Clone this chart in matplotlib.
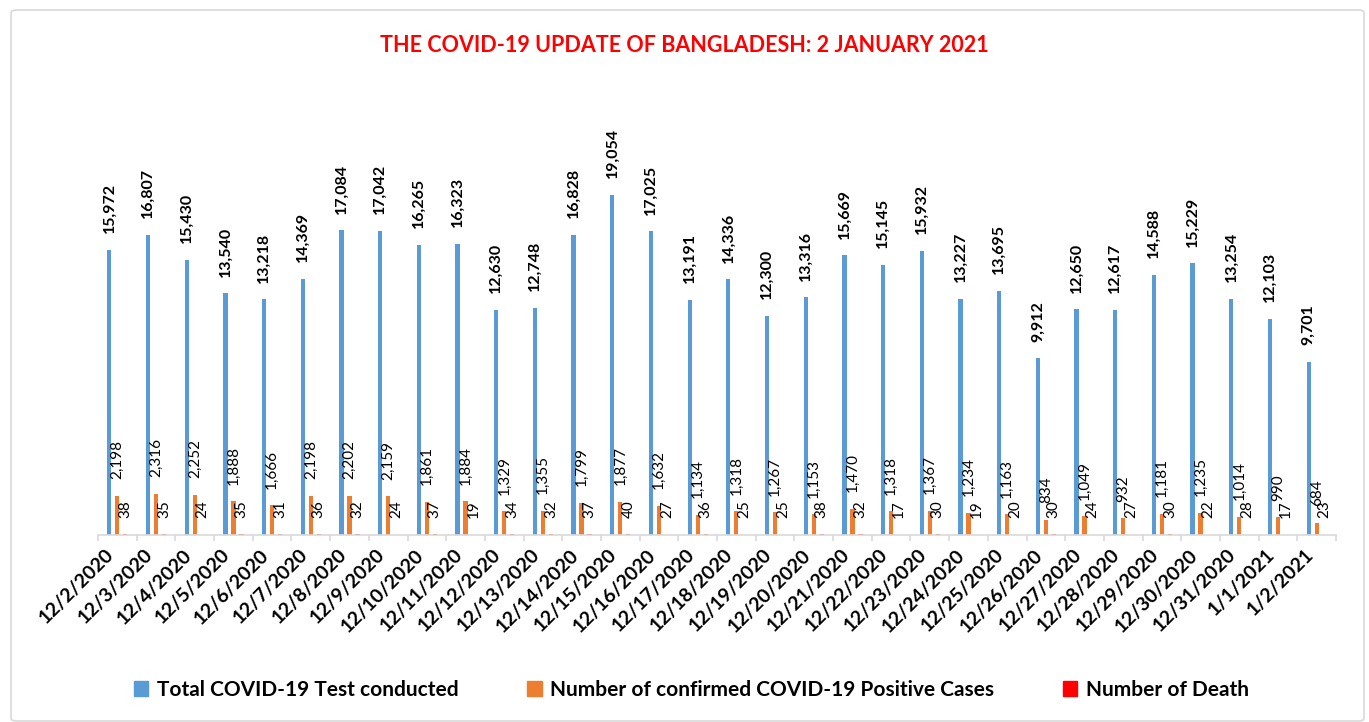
import numpy as np
import matplotlib.pyplot as plt
from matplotlib.patches import Patch, FancyBboxPatch

plt.rcParams['font.family'] = ['Lato', 'DejaVu Sans']

dates = ["12/2/2020", "12/3/2020", "12/4/2020", "12/5/2020", "12/6/2020", "12/7/2020",
         "12/8/2020", "12/9/2020", "12/10/2020", "12/11/2020", "12/12/2020", "12/13/2020",
         "12/14/2020", "12/15/2020", "12/16/2020", "12/17/2020", "12/18/2020", "12/19/2020",
         "12/20/2020", "12/21/2020", "12/22/2020", "12/23/2020", "12/24/2020", "12/25/2020",
         "12/26/2020", "12/27/2020", "12/28/2020", "12/29/2020", "12/30/2020", "12/31/2020",
         "1/1/2021", "1/2/2021"]
tests = [15972, 16807, 15430, 13540, 13218, 14369, 17084, 17042, 16265, 16323, 12630, 12748,
         16828, 19054, 17025, 13191, 14336, 12300, 13316, 15669, 15145, 15932, 13227, 13695,
         9912, 12650, 12617, 14588, 15229, 13254, 12103, 9701]
positives = [2198, 2316, 2252, 1888, 1666, 2198, 2202, 2159, 1861, 1884, 1329, 1355,
             1799, 1877, 1632, 1134, 1318, 1267, 1153, 1470, 1318, 1367, 1234, 1163,
             834, 1049, 932, 1181, 1235, 1014, 990, 684]
deaths = [38, 35, 24, 35, 31, 36, 32, 24, 37, 19, 34, 32, 37, 40, 27, 36, 25, 25,
          38, 32, 17, 30, 19, 20, 30, 24, 27, 30, 22, 28, 17, 23]

series_names = ["Total COVID-19 Test conducted",
                "Number of confirmed COVID-19 Positive Cases",
                "Number of Death"]
colors = ["#5B9BD5", "#ED7D31", "#FF0000"]

fig = plt.figure(figsize=(13.69, 7.22), dpi=100)

# light rounded border like the exported chart frame
frame = FancyBboxPatch((11 / 1369, 1 / 722), 1353 / 1369, 711 / 722,
                       boxstyle="round,pad=0,rounding_size=0.004",
                       transform=fig.transFigure, fill=False,
                       edgecolor="#D9D9D9", linewidth=1.2)
fig.patches.append(frame)

ax = fig.add_axes([98 / 1369, 1 - 535 / 722, 1238 / 1369, 446 / 722])

x = np.arange(len(dates))
width = 0.11
offset = 0.207

for i, (vals, col) in enumerate(zip([tests, positives, deaths], colors)):
    xs = x + (i - 1) * offset
    ax.bar(xs, vals, width=width, color=col, zorder=2)
    for xi, v in zip(xs, vals):
        ax.annotate(f"{v:,}", (xi, v), xytext=(0, 12), textcoords="offset points",
                    rotation=90, ha="center", va="bottom",
                    fontsize=11.5 if i == 0 else 11,
                    fontweight="bold" if i == 0 else "normal", color="black")

ax.set_xlim(-0.5, len(dates) - 0.5)
ax.set_ylim(0, 25000)
ax.set_yticks([])
for s in ["top", "right", "left"]:
    ax.spines[s].set_visible(False)
ax.spines["bottom"].set_color("#D9D9D9")
ax.spines["bottom"].set_linewidth(1.2)

ax.set_xticks(x)
ax.set_xticklabels(dates, rotation=45, ha="right", fontsize=14, fontweight="bold")
ax.tick_params(axis="x", which="major", length=0, pad=8)
ax.set_xticks(np.arange(-0.5, len(dates)), minor=True)
ax.tick_params(axis="x", which="minor", length=4, color="#D9D9D9", width=1.2)

fig.text(0.5, 1 - 45 / 722, "THE COVID-19 UPDATE OF BANGLADESH: 2 JANUARY 2021",
         ha="center", va="center", color="#FF0000", fontsize=15.5, fontweight="bold")

handles = [Patch(facecolor=c, edgecolor=c) for c in colors]
fig.legend(handles, series_names, loc="center", bbox_to_anchor=(0.505, 1 - 690 / 722),
           ncol=3, frameon=False, handlelength=0.7, handleheight=0.7,
           handletextpad=0.4, columnspacing=3.3,
           prop={"size": 15, "weight": "bold"})

fig.savefig("out.png", dpi=100)
